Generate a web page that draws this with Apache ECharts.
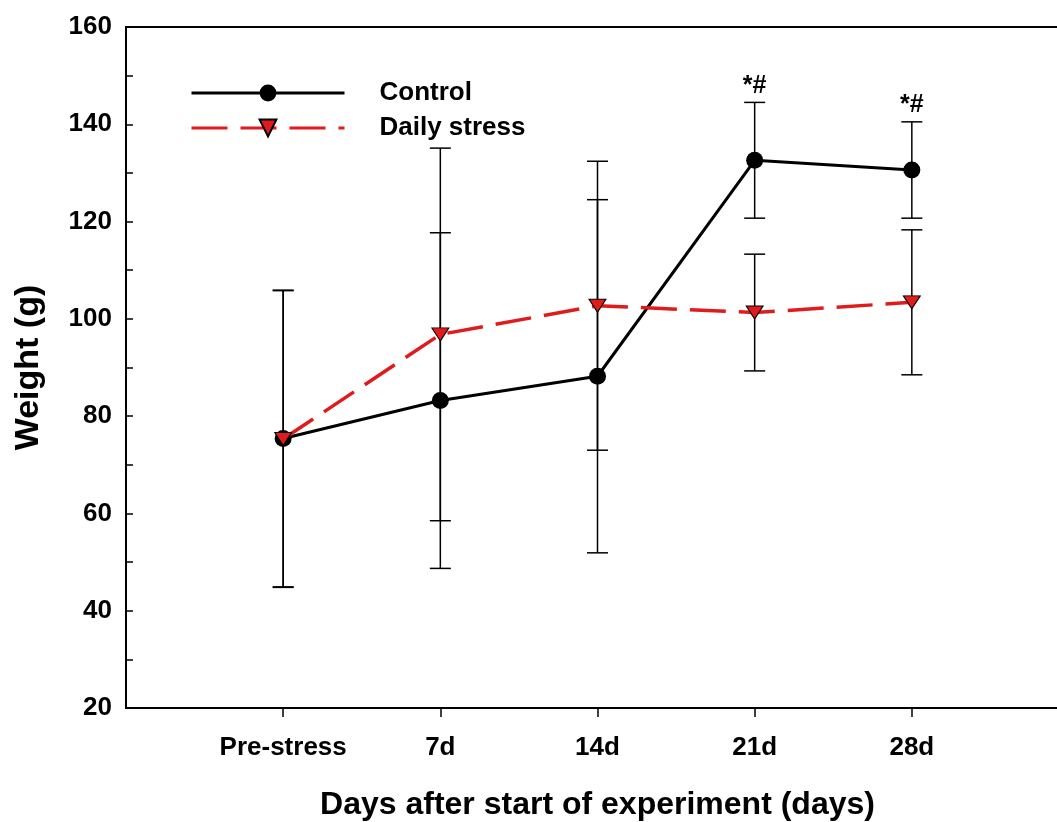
<!DOCTYPE html>
<html>
<head>
<meta charset="utf-8">
<script src="https://cdn.jsdelivr.net/npm/echarts@6/dist/echarts.min.js"></script>
<style>
html,body{margin:0;padding:0;background:#fff;}
#main{width:1057px;height:822px;}
</style>
</head>
<body>
<div id="main"></div>
<script>
// ---- data ----
const categories = ['Pre-stress', '7d', '14d', '21d', '28d'];
const controlMean = [75.4, 83.2, 88.2, 132.6, 130.6];
const controlErr  = [30.5, 34.5, 36.3, 11.9, 9.9];
const stressMean  = [75.3, 96.8, 102.7, 101.3, 103.4];
const stressErr   = [30.5, 38.3, 29.7, 12.0, 14.9];
const significance = ['', '', '', '*#', '*#'];
const yMin = 20, yMax = 160, yStep = 20;

const FONT = 'Liberation Sans, Arial, sans-serif';
const RED = '#e01b1b';

const chart = echarts.init(document.getElementById('main'));

function pts(arr) { return arr.map((v, i) => [i, v]); }
function errData(mean, err) { return mean.map((m, i) => [i, m, err[i]]); }

function errRender(params, api) {
  const x = api.value(0), m = api.value(1), e = api.value(2);
  const top = api.coord([x, m + e]);
  const bot = api.coord([x, m - e]);
  const hw = 10.5;
  const style = { stroke: '#000', lineWidth: 1.5 };
  return {
    type: 'group',
    children: [
      { type: 'line', shape: { x1: top[0], y1: top[1], x2: bot[0], y2: bot[1] }, style },
      { type: 'line', shape: { x1: top[0] - hw, y1: top[1], x2: top[0] + hw, y2: top[1] }, style },
      { type: 'line', shape: { x1: bot[0] - hw, y1: bot[1], x2: bot[0] + hw, y2: bot[1] }, style }
    ]
  };
}

const annData = [];
significance.forEach((s, i) => {
  if (s) annData.push([i, controlMean[i] + controlErr[i], s]);
});

const tickVals = categories.map((c, i) => i);

const option = {
  animation: false,
  backgroundColor: '#fff',
  grid: {
    left: 126, top: 27, right: -12, bottom: 114,
    outerBoundsMode: 'none',
    containLabel: false,
    show: true, borderColor: '#000', borderWidth: 2, backgroundColor: 'transparent'
  },
  legend: {
    orient: 'vertical',
    left: 185, top: 75,
    itemWidth: 153, itemHeight: 21, itemGap: 9,
    data: ['Control', 'Daily stress'],
    lineStyle: { width: 3 },
    textStyle: { fontFamily: FONT, fontWeight: 'bold', fontSize: 26, color: '#000', padding: [0, 0, 0, 30] }
  },
  xAxis: {
    type: 'value', min: -1, max: 5, interval: 1,
    name: 'Days after start of experiment (days)',
    nameLocation: 'middle', nameGap: 81,
    nameTextStyle: { fontFamily: FONT, fontWeight: 'bold', fontSize: 32, color: '#000' },
    axisLine: { show: true, onZero: false, lineStyle: { color: '#000', width: 2 } },
    axisTick: { show: true, customValues: tickVals, length: 9, lineStyle: { color: '#000', width: 1.5 } },
    axisLabel: {
      customValues: tickVals,
      formatter: v => (categories[v] !== undefined ? categories[v] : ''),
      fontFamily: FONT, fontWeight: 'bold', fontSize: 26, color: '#000', margin: 27
    },
    splitLine: { show: false }
  },
  yAxis: {
    type: 'value', min: yMin, max: yMax, interval: yStep,
    name: 'Weight (g)',
    nameLocation: 'middle', nameGap: 80,
    nameTextStyle: { fontFamily: FONT, fontWeight: 'bold', fontSize: 34, color: '#000' },
    axisLine: { show: true, onZero: false, lineStyle: { color: '#000', width: 2 } },
    axisTick: { show: true, inside: true, length: 7, lineStyle: { color: '#000', width: 1.5 } },
    minorTick: { show: true, splitNumber: 2, length: 7, lineStyle: { color: '#000', width: 1.5 } },
    axisLabel: { fontFamily: FONT, fontWeight: 'bold', fontSize: 26, color: '#000', margin: 14 },
    splitLine: { show: false }
  },
  series: [
    {
      type: 'custom', name: 'errControl', data: errData(controlMean, controlErr),
      renderItem: errRender, encode: { x: 0, y: 1 }, z: 1, silent: true
    },
    {
      type: 'custom', name: 'errStress', data: errData(stressMean, stressErr),
      renderItem: errRender, encode: { x: 0, y: 1 }, z: 1, silent: true
    },
    {
      type: 'line', name: 'Control', data: pts(controlMean),
      symbol: 'circle', symbolSize: 17,
      lineStyle: { color: '#000', width: 3 },
      itemStyle: { color: '#000', borderColor: '#000', borderWidth: 0 },
      z: 3
    },
    {
      type: 'line', name: 'Daily stress', data: pts(stressMean),
      symbol: 'triangle', symbolSize: [17, 13], symbolRotate: 180,
      lineStyle: { color: RED, width: 3.5, type: [36, 13] },
      itemStyle: { color: RED, borderColor: '#000', borderWidth: 1 },
      z: 4
    },
    {
      type: 'scatter', name: 'sig', data: annData,
      symbol: 'circle', symbolSize: 0.01, itemStyle: { color: '#000', opacity: 1 },
      label: {
        show: true, position: 'top', distance: 4,
        formatter: p => p.data[2],
        fontFamily: FONT, fontWeight: 'bold', fontSize: 25, color: '#000', opacity: 1
      },
      z: 5, silent: true
    }
  ]
};
chart.setOption(option);
</script>
</body>
</html>
